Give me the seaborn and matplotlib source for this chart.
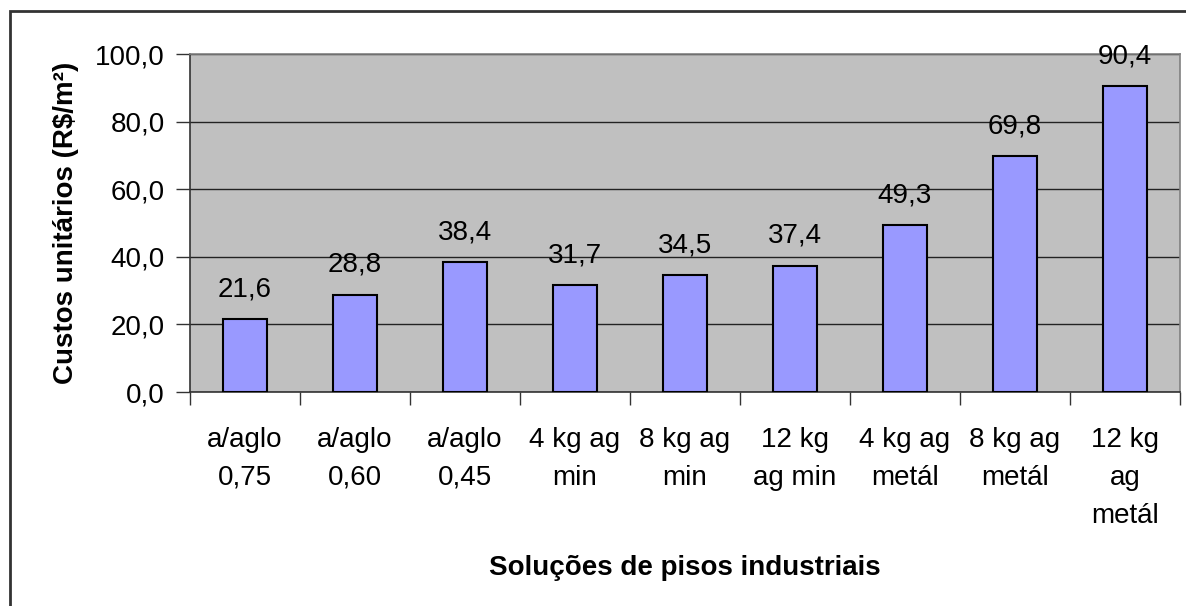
import pandas as pd
import matplotlib.pyplot as plt
import matplotlib.patches as patches
import seaborn as sns

sns.set_style("white")
plt.rcParams['font.family'] = ['Liberation Sans', 'DejaVu Sans']
plt.rcParams['text.color'] = 'black'
plt.rcParams['axes.labelcolor'] = 'black'
plt.rcParams['xtick.color'] = 'black'
plt.rcParams['ytick.color'] = 'black'

# dados do gráfico
solucoes = ["a/aglo\n0,75", "a/aglo\n0,60", "a/aglo\n0,45", "4 kg ag\nmin", "8 kg ag\nmin",
            "12 kg\nag min", "4 kg ag\nmetál", "8 kg ag\nmetál", "12 kg\nag\nmetál"]
custos = [21.6, 28.8, 38.4, 31.7, 34.5, 37.4, 49.3, 69.8, 90.4]
y_ticks = [0, 20, 40, 60, 80, 100]

df = pd.DataFrame({'solucao': solucoes, 'custo': custos})

fig = plt.figure(figsize=(11.86, 6.06), dpi=100)
ax = fig.add_axes([190 / 1186, 1 - 392 / 606, 990 / 1186, 338 / 606])

sns.barplot(data=df, x='solucao', y='custo', color='#9999FF', edgecolor='black',
            linewidth=1.5, width=0.4, saturation=1, ax=ax, zorder=3)

ax.set_facecolor('#C0C0C0')
ax.set_ylim(0, 100)
ax.set_xlim(-0.5, len(solucoes) - 0.5)
ax.set_yticks(y_ticks)
ax.set_yticklabels([f"{v:.1f}".replace('.', ',') for v in y_ticks], fontsize=20)
ax.yaxis.grid(True, color='#222222', linewidth=1, zorder=0)
ax.set_axisbelow(True)

# ticks do eixo x nas divisões entre categorias
ax.set_xticks([i + 0.5 for i in range(-1, len(solucoes))], minor=True)
ax.tick_params(axis='x', which='minor', length=9, width=1, color='#333333', direction='out', bottom=True)
ax.tick_params(axis='x', which='major', length=0, pad=25, labelsize=20)
ax.tick_params(axis='y', length=10, width=1, color='#333333', direction='out', left=True, pad=8)
for lbl in ax.get_xticklabels():
    lbl.set_linespacing(1.6)
    lbl.set_verticalalignment('top')

for side in ['left', 'bottom']:
    ax.spines[side].set_color('#333333')
    ax.spines[side].set_linewidth(1.2)
for side in ['top', 'right']:
    ax.spines[side].set_color('#808080')
    ax.spines[side].set_linewidth(1.2)

ax.bar_label(ax.containers[0], labels=[f"{v:.1f}".replace('.', ',') for v in custos],
             padding=12, fontsize=20)

ax.set_xlabel('Soluções de pisos industriais', fontsize=20, fontweight='bold', labelpad=19)
ax.set_ylabel('Custos unitários (R\\$/m²)', fontsize=20, fontweight='bold', labelpad=12)

# moldura externa
fig.patches.append(patches.Rectangle((10 / 1186, -0.1), 1.2, 1 - 11 / 606 + 0.1,
                                     transform=fig.transFigure, fill=False,
                                     edgecolor='#333333', linewidth=2))

fig.savefig('out.png', dpi=100)
